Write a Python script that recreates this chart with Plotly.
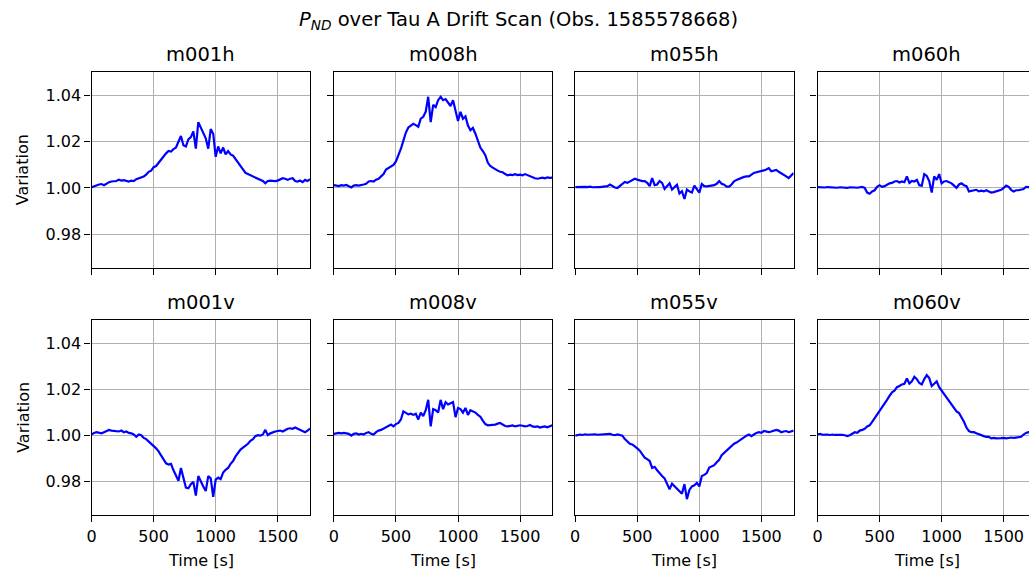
import plotly.graph_objects as go

# ---------------- data ----------------
TIME = list(range(0, 1761, 20))

m001h = [1.0003, 1.0008, 1.0012, 1.0015, 1.0017, 1.0012, 1.0018, 1.0025, 1.0028, 1.0030,
         1.0030, 1.0036, 1.0032, 1.0034, 1.0030, 1.0028, 1.0032, 1.0030, 1.0038, 1.0042,
         1.0045, 1.0050, 1.0058, 1.0070, 1.0075, 1.0090, 1.0095, 1.0110, 1.0120, 1.0135,
         1.0150, 1.0160, 1.0158, 1.0168, 1.0175, 1.0200, 1.0225, 1.0185, 1.0180, 1.0210,
         1.0220, 1.0245, 1.0170, 1.0285, 1.0260, 1.0235, 1.0215, 1.0170, 1.0255, 1.0235,
         1.0135, 1.0180, 1.0150, 1.0175, 1.0145, 1.0160, 1.0145, 1.0140, 1.0125, 1.0110,
         1.0095, 1.0080, 1.0065, 1.0060, 1.0055, 1.0050, 1.0045, 1.0040, 1.0035, 1.0030,
         1.0020, 1.0030, 1.0032, 1.0030, 1.0030, 1.0032, 1.0038, 1.0042, 1.0040, 1.0035,
         1.0040, 1.0042, 1.0030, 1.0028, 1.0032, 1.0025, 1.0035, 1.0030, 1.0038]

m008h = [1.0012, 1.0010, 1.0008, 1.0012, 1.0010, 1.0013, 1.0008, 1.0002, 1.0010, 1.0012,
         1.0010, 1.0014, 1.0015, 1.0018, 1.0028, 1.0030, 1.0028, 1.0036, 1.0040, 1.0050,
         1.0060, 1.0080, 1.0088, 1.0095, 1.0100, 1.0115, 1.0140, 1.0170, 1.0205, 1.0240,
         1.0262, 1.0270, 1.0278, 1.0272, 1.0265, 1.0300, 1.0308, 1.0330, 1.0395, 1.0285,
         1.0360, 1.0350, 1.0380, 1.0395, 1.0380, 1.0385, 1.0370, 1.0355, 1.0380, 1.0340,
         1.0290, 1.0330, 1.0300, 1.0310, 1.0270, 1.0250, 1.0260, 1.0235, 1.0200, 1.0175,
         1.0160, 1.0142, 1.0110, 1.0095, 1.0088, 1.0080, 1.0075, 1.0070, 1.0068, 1.0060,
         1.0055, 1.0058, 1.0056, 1.0060, 1.0056, 1.0058, 1.0055, 1.0060, 1.0055, 1.0050,
         1.0048, 1.0042, 1.0040, 1.0044, 1.0045, 1.0042, 1.0046, 1.0044, 1.0045]

m055h = [1.0004, 1.0005, 1.0003, 1.0006, 1.0005, 1.0004, 1.0006, 1.0003, 1.0005, 1.0004,
         1.0004, 1.0006, 1.0005, 1.0008, 1.0015, 1.0008, 1.0002, 1.0000, 1.0010, 1.0018,
         1.0026, 1.0022, 1.0028, 1.0032, 1.0040, 1.0036, 1.0032, 1.0030, 1.0030, 1.0022,
         1.0008, 1.0043, 1.0012, 1.0015, 1.0030, 1.0022, 0.9996, 1.0010, 1.0020, 0.9993,
         1.0005, 1.0014, 0.9976, 0.9986, 0.9952, 0.9993, 0.9985, 0.9980, 1.0010, 0.9995,
         0.9980, 1.0017, 1.0008, 1.0007, 1.0008, 1.0010, 1.0012, 1.0018, 1.0030, 1.0018,
         1.0014, 1.0006, 1.0006, 1.0015, 1.0029, 1.0035, 1.0040, 1.0046, 1.0048, 1.0050,
         1.0050, 1.0058, 1.0065, 1.0068, 1.0070, 1.0072, 1.0076, 1.0080, 1.0086, 1.0072,
         1.0075, 1.0078, 1.0070, 1.0062, 1.0058, 1.0050, 1.0043, 1.0055, 1.0065]

m060h = [1.0004, 1.0003, 1.0004, 1.0002, 1.0004, 1.0003, 1.0002, 1.0004, 1.0001, 1.0003,
         1.0002, 1.0004, 1.0000, 1.0003, 1.0004, 1.0002, 1.0001, 1.0003, 1.0005, 1.0000,
         0.9980, 0.9975, 0.9985, 0.9990, 1.0005, 1.0012, 1.0005, 1.0008, 1.0015, 1.0020,
         1.0022, 1.0028, 1.0030, 1.0024, 1.0028, 1.0025, 1.0050, 1.0022, 1.0030, 1.0028,
         1.0035, 1.0012, 1.0010, 1.0060, 1.0052, 1.0030, 0.9980, 1.0050, 1.0035, 1.0060,
         1.0020, 1.0028, 1.0030, 1.0025, 1.0020, 1.0010, 1.0000, 1.0015, 1.0020, 1.0012,
         1.0008, 0.9985, 0.9988, 0.9990, 0.9992, 0.9985, 0.9988, 0.9985, 0.9990, 0.9985,
         0.9980, 0.9982, 0.9985, 0.9990, 0.9992, 1.0000, 1.0010, 1.0005, 0.9992, 0.9985,
         0.9990, 0.9990, 0.9992, 0.9995, 1.0005, 1.0005, 1.0002, 1.0000, 1.0002]

m001v = [1.0005, 1.0012, 1.0015, 1.0012, 1.0010, 1.0015, 1.0020, 1.0025, 1.0022, 1.0020,
         1.0020, 1.0018, 1.0022, 1.0015, 1.0018, 1.0012, 1.0010, 1.0005, 0.9995, 1.0005,
         1.0002, 0.9990, 0.9985, 0.9975, 0.9965, 0.9958, 0.9945, 0.9932, 0.9915, 0.9898,
         0.9880, 0.9875, 0.9878, 0.9850, 0.9825, 0.9805, 0.9860, 0.9810, 0.9775, 0.9772,
         0.9790, 0.9800, 0.9740, 0.9825, 0.9800, 0.9780, 0.9760, 0.9825, 0.9815, 0.9735,
         0.9810, 0.9818, 0.9812, 0.9840, 0.9852, 0.9860, 0.9878, 0.9890, 0.9910, 0.9925,
         0.9940, 0.9948, 0.9955, 0.9965, 0.9978, 0.9985, 0.9998, 1.0002, 1.0000, 1.0005,
         1.0025, 1.0002, 1.0010, 1.0015, 1.0018, 1.0020, 1.0022, 1.0018, 1.0025, 1.0030,
         1.0032, 1.0030, 1.0035, 1.0030, 1.0025, 1.0020, 1.0015, 1.0022, 1.0030]

m008v = [1.0008, 1.0010, 1.0012, 1.0010, 1.0012, 1.0010, 1.0008, 1.0000, 1.0008, 1.0010,
         1.0005, 1.0008, 1.0005, 1.0012, 1.0015, 1.0008, 1.0005, 1.0015, 1.0022, 1.0025,
         1.0030, 1.0035, 1.0042, 1.0048, 1.0040, 1.0050, 1.0055, 1.0070, 1.0105, 1.0098,
         1.0092, 1.0095, 1.0090, 1.0095, 1.0070, 1.0100, 1.0085, 1.0110, 1.0155, 1.0040,
         1.0115, 1.0110, 1.0100, 1.0155, 1.0115, 1.0145, 1.0135, 1.0140, 1.0145, 1.0080,
         1.0120, 1.0115, 1.0100, 1.0120, 1.0090, 1.0110, 1.0105, 1.0100, 1.0090, 1.0082,
         1.0065, 1.0050, 1.0045, 1.0046, 1.0044, 1.0048, 1.0052, 1.0055, 1.0048, 1.0042,
         1.0040, 1.0042, 1.0044, 1.0040, 1.0042, 1.0045, 1.0043, 1.0040, 1.0042, 1.0046,
         1.0040, 1.0038, 1.0040, 1.0035, 1.0038, 1.0040, 1.0036, 1.0040, 1.0045]

m055v = [1.0000, 1.0002, 1.0005, 1.0003, 1.0006, 1.0004, 1.0005, 1.0003, 1.0006, 1.0004,
         1.0005, 1.0004, 1.0006, 1.0005, 1.0008, 1.0004, 1.0002, 1.0005, 1.0002, 1.0000,
         0.9985, 0.9975, 0.9965, 0.9962, 0.9955, 0.9945, 0.9935, 0.9922, 0.9905, 0.9898,
         0.9890, 0.9860, 0.9865, 0.9850, 0.9835, 0.9825, 0.9815, 0.9790, 0.9768, 0.9792,
         0.9782, 0.9770, 0.9760, 0.9748, 0.9790, 0.9725, 0.9765, 0.9780, 0.9785, 0.9795,
         0.9780, 0.9825, 0.9830, 0.9838, 0.9862, 0.9868, 0.9872, 0.9885, 0.9895, 0.9915,
         0.9925, 0.9935, 0.9945, 0.9955, 0.9965, 0.9970, 0.9978, 0.9985, 0.9992, 1.0000,
         1.0005, 0.9998, 1.0005, 1.0012, 1.0015, 1.0012, 1.0020, 1.0018, 1.0015, 1.0018,
         1.0020, 1.0025, 1.0022, 1.0015, 1.0018, 1.0020, 1.0015, 1.0020, 1.0022]

m060v = [1.0005, 1.0008, 1.0004, 1.0006, 1.0005, 1.0003, 1.0005, 1.0003, 1.0004, 1.0006,
         1.0004, 1.0002, 0.9998, 1.0002, 1.0010, 1.0015, 1.0012, 1.0022, 1.0025, 1.0030,
         1.0040, 1.0045, 1.0060, 1.0075, 1.0095, 1.0105, 1.0120, 1.0138, 1.0155, 1.0172,
         1.0188, 1.0195, 1.0210, 1.0215, 1.0222, 1.0225, 1.0248, 1.0225, 1.0235, 1.0255,
         1.0245, 1.0228, 1.0222, 1.0245, 1.0262, 1.0250, 1.0215, 1.0225, 1.0235, 1.0210,
         1.0195, 1.0180, 1.0165, 1.0150, 1.0138, 1.0120, 1.0105, 1.0098, 1.0080, 1.0060,
         1.0035, 1.0020, 1.0015, 1.0015, 1.0010, 1.0005, 1.0000, 0.9998, 0.9995, 0.9995,
         0.9988, 0.9990, 0.9988, 0.9990, 0.9989, 0.9990, 0.9988, 0.9990, 0.9992, 0.9990,
         0.9992, 0.9995, 0.9995, 1.0005, 1.0012, 1.0015, 1.0015, 1.0012, 1.0015]

CHANNELS = ["m001h", "m008h", "m055h", "m060h", "m001v", "m008v", "m055v", "m060v"]
SERIES = [m001h, m008h, m055h, m060h, m001v, m008v, m055v, m060v]
X_TICKS = [0, 500, 1000, 1500]
Y_TICKS = [0.98, 1.00, 1.02, 1.04]
TITLE = "<i>P</i><sub><i>ND</i></sub> over Tau A Drift Scan (Obs. 1585578668)"
X_LABEL = "Time [s]"
Y_LABEL = "Variation"

for s in SERIES:
    assert len(s) == len(TIME), len(s)

# ---------------- layout ----------------
W, H = 1029, 572
FONT = "DejaVu Sans"
COL_LEFT = [87, 330.5, 573, 816.5]
COL_W = 219.5
ROW_TOP = [72.3, 320]
ROW_H = 195.3
XMAX = 1760
YR = [0.9655, 1.0501]
INK = "#000000"

fig = go.Figure()
layout = dict(
    width=W, height=H,
    margin=dict(l=0, r=0, t=0, b=0),
    paper_bgcolor="white", plot_bgcolor="white",
    showlegend=False,
    font=dict(family=FONT, size=16, color=INK),
)
annotations = []

for i, (name, vals) in enumerate(zip(CHANNELS, SERIES)):
    r, c = divmod(i, 4)
    k = i + 1
    xa = "xaxis" if k == 1 else f"xaxis{k}"
    ya = "yaxis" if k == 1 else f"yaxis{k}"
    xr = "x" if k == 1 else f"x{k}"
    yr = "y" if k == 1 else f"y{k}"
    left = COL_LEFT[c]
    right = min(left + COL_W, W)
    xmax = XMAX * (right - left) / COL_W
    top = ROW_TOP[r]
    bottom = top + ROW_H

    fig.add_trace(go.Scatter(x=TIME, y=vals, mode="lines",
                             line=dict(color="#0000ff", width=2.2),
                             xaxis=xr, yaxis=yr, hoverinfo="skip"))

    layout[xa] = dict(
        domain=[left / W, right / W], anchor=yr, range=[0, xmax],
        tickmode="array", tickvals=X_TICKS, ticktext=[str(v) for v in X_TICKS],
        showticklabels=(r == 1), ticks="outside", ticklen=6, tickwidth=1.3, tickcolor=INK,
        showline=True, linecolor=INK, linewidth=1.3, mirror=True,
        showgrid=True, gridcolor="#b0b0b0", gridwidth=1.3, zeroline=False,
        tickfont=dict(family=FONT, size=16, color=INK), fixedrange=True,
    )
    layout[ya] = dict(
        domain=[1 - bottom / H, 1 - top / H], anchor=xr, range=YR,
        tickmode="array", tickvals=Y_TICKS, ticktext=[f"{v:.2f}" for v in Y_TICKS],
        showticklabels=(c == 0), ticks="outside", ticklen=6, tickwidth=1.3, tickcolor=INK,
        showline=True, linecolor=INK, linewidth=1.3, mirror=(c != 3),
        showgrid=True, gridcolor="#b0b0b0", gridwidth=1.3, zeroline=False,
        tickfont=dict(family=FONT, size=16, color=INK), fixedrange=True,
    )

    cx = (left + COL_W / 2) / W
    annotations.append(dict(text=name, x=cx, y=1 - (top - 17.5) / H, xref="paper", yref="paper",
                            xanchor="center", yanchor="middle", showarrow=False,
                            font=dict(family=FONT, size=19.5, color=INK)))
    if r == 1:
        annotations.append(dict(text=X_LABEL, x=cx, y=1 - 560 / H, xref="paper", yref="paper",
                                xanchor="center", yanchor="middle", showarrow=False,
                                font=dict(family=FONT, size=16, color=INK)))
    if c == 0:
        annotations.append(dict(text=Y_LABEL, x=18.3 / W, y=1 - (top + ROW_H / 2) / H,
                                xref="paper", yref="paper", textangle=-90,
                                xanchor="center", yanchor="middle", showarrow=False,
                                font=dict(family=FONT, size=16, color=INK)))

annotations.append(dict(text=TITLE, x=516 / W, y=1 - 20 / H, xref="paper", yref="paper",
                        xanchor="center", yanchor="middle", showarrow=False,
                        font=dict(family=FONT, size=19.5, color=INK)))
layout["annotations"] = annotations
fig.update_layout(**layout)
fig.write_html("out.html")
